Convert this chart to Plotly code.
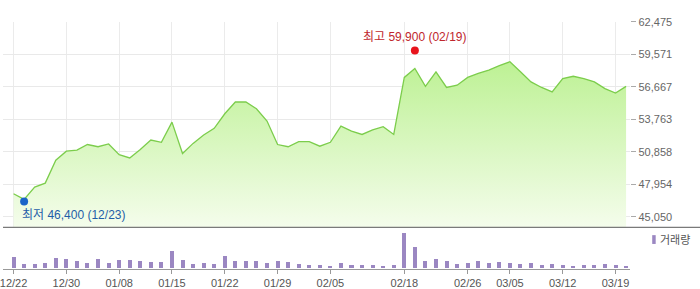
import plotly.graph_objects as go

dates = ["12/22", "12/23", "12/24", "12/26", "12/29", "12/30", "01/02", "01/05", "01/06", "01/07",
         "01/08", "01/09", "01/12", "01/13", "01/14", "01/15", "01/16", "01/19", "01/20", "01/21",
         "01/22", "01/23", "01/26", "01/27", "01/28", "01/29", "01/30", "02/02", "02/03", "02/04",
         "02/05", "02/06", "02/09", "02/10", "02/11", "02/12", "02/13", "02/18", "02/19", "02/20",
         "02/23", "02/24", "02/25", "02/26", "02/27", "03/03", "03/04", "03/05", "03/06", "03/09",
         "03/10", "03/11", "03/12", "03/13", "03/16", "03/17", "03/18", "03/19", "03/20"]

close = [47100, 46600, 47700, 48050, 50100, 50900, 51000, 51500, 51300, 51550,
         50600, 50300, 51050, 51900, 51700, 53500, 50700, 51600, 52350, 52950,
         54250, 55300, 55300, 54700, 53600, 51500, 51300, 51750, 51750, 51350,
         51700, 53150, 52700, 52400, 52800, 53100, 52400, 57500, 58300, 56700,
         58000, 56600, 56800, 57500, 57850, 58150, 58550, 58900, 58000, 57100,
         56600, 56200, 57400, 57600, 57400, 57100, 56500, 56100, 56700]

volume = [113000, 43000, 43000, 53000, 107000, 93000, 73000, 53000, 93000, 53000,
          83000, 83000, 73000, 63000, 63000, 173000, 83000, 43000, 53000, 43000,
          123000, 73000, 73000, 73000, 53000, 73000, 63000, 43000, 33000, 33000,
          23000, 53000, 33000, 33000, 33000, 23000, 33000, 363000, 223000, 73000,
          93000, 73000, 43000, 53000, 73000, 53000, 63000, 53000, 43000, 53000,
          33000, 43000, 33000, 23000, 33000, 33000, 43000, 33000, 23000]

tick_dates = ["12/22", "12/30", "01/08", "01/15", "01/22", "01/29", "02/05",
              "02/18", "02/26", "03/05", "03/12", "03/19"]
price_ticks = [45050, 47954, 50858, 53763, 56667, 59571, 62475]
price_tick_text = ["45,050", "47,954", "50,858", "53,763", "56,667", "59,571", "62,475"]

high_date, high_value = "02/19", 59900
low_date, low_value = "12/23", 46400
volume_label = "거래량"

W, H = 700, 289
def py(p):  # pixel y from top -> paper
    return (H - p) / H
def px(p):
    return p / W

FONT = "Liberation Sans, Noto Sans CJK KR, sans-serif"

fig = go.Figure()

fig.add_trace(go.Scatter(
    x=dates, y=close, mode="lines",
    line=dict(color="#7ccd4c", width=1.3),
    fill="tozeroy",
    fillgradient=dict(type="vertical",
                      colorscale=[[0, "#f6fdee"], [1, "#bdf194"]],
                      start=44100, stop=59000),
    xaxis="x", yaxis="y", showlegend=False, hoverinfo="skip"))

fig.add_trace(go.Scatter(
    x=[high_date], y=[high_value], mode="markers",
    marker=dict(color="#e8141c", size=8),
    xaxis="x", yaxis="y", showlegend=False, cliponaxis=False))
fig.add_trace(go.Scatter(
    x=[low_date], y=[low_value], mode="markers",
    marker=dict(color="#1a64c8", size=8),
    xaxis="x", yaxis="y", showlegend=False, cliponaxis=False))

fig.add_trace(go.Bar(
    x=dates, y=volume, marker=dict(color="#9b87c2", line=dict(width=0)),
    width=0.38, xaxis="x2", yaxis="y2", showlegend=False))

xrange = [-1, 58.4]
fig.update_layout(
    width=W, height=H,
    margin=dict(l=0, r=0, t=0, b=0),
    paper_bgcolor="white", plot_bgcolor="white",
    font=dict(family=FONT, size=11, color="#555"),
    xaxis=dict(type="category", domain=[0, px(630)], range=xrange,
               tickvals=tick_dates, showticklabels=False, ticks="",
               showgrid=True, gridcolor="#ebebeb", gridwidth=1,
               zeroline=False, anchor="y", categoryorder="array", categoryarray=dates),
    yaxis=dict(domain=[py(226), py(16)], range=[44100, 62480],
               tickvals=price_ticks, ticktext=price_tick_text,
               side="right", ticks="outside", ticklen=5, tickcolor="#aaa",
               showgrid=True, gridcolor="#e9e9e9", gridwidth=1,
               zeroline=False, anchor="x",
               tickfont=dict(size=11, color="#666")),
    xaxis2=dict(type="category", domain=[0, px(630)], range=xrange,
                tickvals=tick_dates, ticktext=tick_dates,
                ticks="outside", ticklen=4, tickcolor="#999",
                showline=True, linecolor="#999", linewidth=1,
                showgrid=False, zeroline=False, anchor="y2",
                categoryorder="array", categoryarray=dates,
                tickfont=dict(size=11, color="#555")),
    yaxis2=dict(domain=[py(268.3), py(226)], range=[0, 423000],
                showticklabels=False, showgrid=False, zeroline=False,
                ticks="", anchor="x2"),
    bargap=0,
)

# separator line between panels
fig.add_shape(type="line", xref="paper", yref="paper",
              x0=0, x1=1, y0=py(226), y1=py(226),
              line=dict(color="#7a7a7a", width=1.2))

# volume legend
fig.add_shape(type="rect", xref="paper", yref="paper",
              x0=px(652), x1=px(655.5), y0=py(243), y1=py(234),
              fillcolor="#9b87c2", line=dict(width=0))
fig.add_annotation(xref="paper", yref="paper", x=px(657.5), y=py(238.5),
                   text=volume_label, showarrow=False, xanchor="left", yanchor="middle",
                   font=dict(size=11, color="#555", family=FONT))

# high / low annotations
fig.add_annotation(x=high_date, y=high_value, xref="x", yref="y",
                   text=f"최고 {high_value:,} ({high_date})", showarrow=False,
                   xanchor="center", yanchor="middle", yshift=14,
                   font=dict(size=12, color="#c0262d", family=FONT))
fig.add_annotation(x=low_date, y=low_value, xref="x", yref="y",
                   text=f"최저 {low_value:,} ({low_date})", showarrow=False,
                   xanchor="left", yanchor="middle", xshift=-4, yshift=-13,
                   font=dict(size=12, color="#1f5ea8", family=FONT))

fig.write_html("out.html")
